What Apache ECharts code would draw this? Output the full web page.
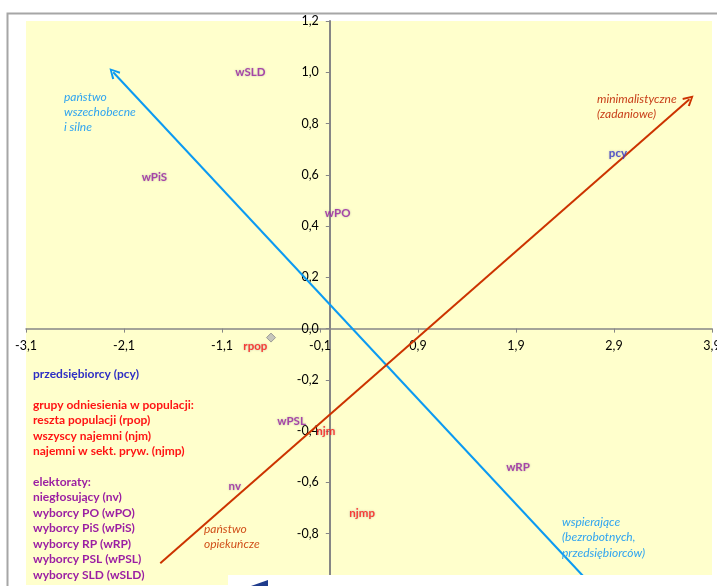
<!DOCTYPE html>
<html>
<head>
<meta charset="utf-8">
<script src="https://cdn.jsdelivr.net/npm/echarts@6/dist/echarts.min.js"></script>
<style>
html,body{margin:0;padding:0;background:#fff;}
#c{width:717px;height:586px;}
</style>
</head>
<body>
<div id="c"></div>
<script>
// ---- data ----
const xMin = -3.1, xMax = 3.9;
const yMin = -1.0, yMax = 1.2;
const xTickValues = [-3.1, -2.1, -1.1, -0.1, 0.9, 1.9, 2.9, 3.9];
const yTickValues = [-0.8, -0.6, -0.4, -0.2, 0.0, 0.2, 0.4, 0.6, 0.8, 1.0, 1.2];

const pcyNames = ['pcy'];
const pcyX = [2.94];
const pcyY = [0.685];

const groupNames = ['rpop', 'njm', 'njmp'];
const groupX = [-0.76, -0.04, 0.33];
const groupY = [-0.07, -0.40, -0.72];

const electNames = ['wSLD', 'wPiS', 'wPO', 'wPSL', 'nv', 'wRP'];
const electX = [-0.81, -1.79, 0.08, -0.39, -0.97, 1.92];
const electY = [1.00, 0.59, 0.45, -0.36, -0.615, -0.54];

const markerX = [-0.60];
const markerY = [-0.035];

const arrowBlue = [[2.67, -1.0], [-2.21, 1.00]];
const arrowOrange = [[-1.73, -0.915], [3.67, 0.895]];

const legendLines = [
  ['przedsiębiorcy (pcy)', 'blue'],
  ['', ''],
  ['grupy odniesienia w populacji:', 'red'],
  ['reszta populacji (rpop)', 'red'],
  ['wszyscy najemni (njm)', 'red'],
  ['najemni w sekt. pryw. (njmp)', 'red'],
  ['', ''],
  ['elektoraty:', 'purple'],
  ['niegłosujący (nv)', 'purple'],
  ['wyborcy PO (wPO)', 'purple'],
  ['wyborcy PiS (wPiS)', 'purple'],
  ['wyborcy RP (wRP)', 'purple'],
  ['wyborcy PSL (wPSL)', 'purple'],
  ['wyborcy SLD (wSLD)', 'purple']
];

// ---- layout / styles ----
const W = 717, H = 586;
const G = {left: 26, right: 5, top: 21, bottom: 1};
const gw = W - G.left - G.right, gh = H - G.top - G.bottom;
// shift axes so they cross at the origin (labels follow the axis lines)
const yAxisOffset = -(0 - xMin) / (xMax - xMin) * gw;
const xAxisOffset = -(0 - yMin) / (yMax - yMin) * gh;

const C = {blue: '#2E2EC4', red: '#FF1414', purple: '#9B1FA3'};
const FONT = 'Lato';
const fmt = v => (Math.round(v * 10) / 10).toFixed(1).replace('.', ',');
const chevron = 'path://M5,0 L10,9 L8.4,10 L5,3.2 L1.6,10 L0,9 Z';

function pts(names, xs, ys) {
  return names.map((n, i) => ({name: n, value: [xs[i], ys[i]]}));
}
function labelSeries(name, data, color, size) {
  return {
    name, type: 'scatter', data, symbolSize: 0, z: 5,
    label: {
      show: true, position: 'inside', formatter: p => p.name,
      color, fontFamily: FONT, fontWeight: 'bold', fontSize: size || 11.5,
      textShadowColor: 'rgba(150,150,150,0.8)', textShadowBlur: 2
    }
  };
}

const chart = echarts.init(document.getElementById('c'));

const italic = 'italic 12px ' + FONT;
const graphics = [
  {type: 'polyline', shape: {points: [[7.5, 586], [7.5, 13.5], [717, 13.5]]},
   style: {stroke: '#A6A6A6', lineWidth: 2, fill: null}, z: 1},
  {type: 'text', left: 64, top: 90, z: 10,
   style: {text: 'państwo\nwszechobecne\ni silne', fill: '#2FA4F0', font: italic, lineHeight: 15}},
  {type: 'text', left: 597, top: 92, z: 10,
   style: {text: 'minimalistyczne\n(zadaniowe)', fill: '#C8401A', font: italic, lineHeight: 15}},
  {type: 'text', left: 204, top: 522, z: 10,
   style: {text: 'państwo\nopiekuńcze', fill: '#D0501A', font: italic, lineHeight: 15}},
  {type: 'text', left: 562, top: 514, z: 10,
   style: {text: 'wspierające\n(bezrobotnych,\nprzedsiębiorców)', fill: '#2FA4F0', font: italic, lineHeight: 15.5}},
  {type: 'rect', shape: {x: 228, y: 575, width: 489, height: 11}, style: {fill: '#fff'}, z: 20},
  {type: 'polygon', shape: {points: [[251, 586], [268, 580], [268, 586]]}, style: {fill: '#1F3C8C'}, z: 21}
];
legendLines.forEach((l, i) => {
  if (!l[0]) return;
  graphics.push({type: 'text', left: 33, top: 368 + i * 15.45, z: 10,
    style: {text: l[0], fill: C[l[1]], font: 'bold 12px ' + FONT}});
});

chart.setOption({
  animation: false,
  backgroundColor: '#fff',
  grid: {left: G.left, right: G.right, top: G.top, bottom: G.bottom, show: true,
         backgroundColor: '#FFFFCC', borderWidth: 0, containLabel: false, outerBoundsMode: 'none'},
  xAxis: {
    type: 'value', min: xMin, max: xMax, position: 'bottom', offset: xAxisOffset,
    axisLine: {onZero: false, lineStyle: {color: '#868686', width: 1.5}},
    axisTick: {show: true, customValues: xTickValues, length: 4, lineStyle: {color: '#868686'}},
    axisLabel: {customValues: xTickValues, formatter: fmt, color: '#000', fontFamily: FONT, fontSize: 12.5, margin: 11},
    splitLine: {show: false}
  },
  yAxis: {
    type: 'value', min: yMin, max: yMax, interval: 0.2, position: 'left', offset: yAxisOffset,
    axisLine: {onZero: false, lineStyle: {color: '#868686', width: 2}},
    axisTick: {show: true, customValues: yTickValues, length: 4, lineStyle: {color: '#868686'}},
    axisLabel: {customValues: yTickValues, formatter: fmt, color: '#000', fontFamily: FONT, fontSize: 12.5, margin: 11},
    splitLine: {show: false}
  },
  graphic: graphics,
  series: [
    {
      name: 'arrows', type: 'scatter', data: [], z: 3,
      markLine: {
        silent: true, symbol: ['none', chevron], symbolSize: 11, precision: 3,
        label: {show: false},
        data: [
          [{coord: arrowBlue[0], lineStyle: {color: '#0B9AF2', width: 2, type: 'solid'}, itemStyle: {color: '#0B9AF2'}}, {coord: arrowBlue[1]}],
          [{coord: arrowOrange[0], lineStyle: {color: '#CC3300', width: 2, type: 'solid'}, itemStyle: {color: '#CC3300'}}, {coord: arrowOrange[1]}]
        ]
      }
    },
    {name: 'marker', type: 'scatter', data: pts(['m'], markerX, markerY), symbol: 'diamond', symbolSize: 9,
     itemStyle: {color: '#B8B8B8', borderColor: '#8A8A8A', borderWidth: 1}, z: 4},
    labelSeries('pcy', pts(pcyNames, pcyX, pcyY), '#3333CC'),
    labelSeries('groups', pts(groupNames, groupX, groupY), C.red),
    labelSeries('elect', pts(electNames, electX, electY), C.purple)
  ]
});
</script>
</body>
</html>
